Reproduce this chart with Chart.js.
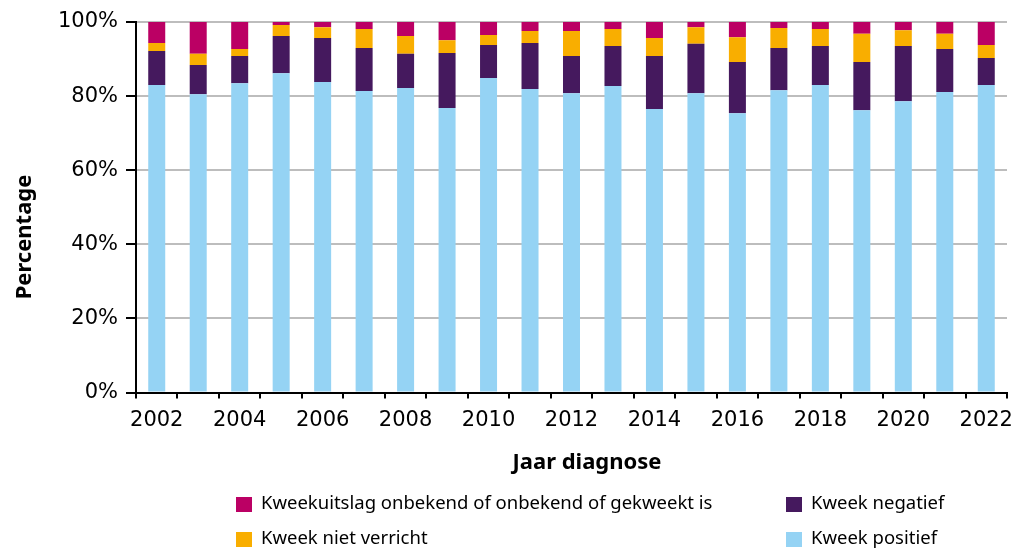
<!DOCTYPE html>
<html lang="nl">
<head>
    <title>Kweekuitslag per jaar</title>
    <script src="https://cdn.jsdelivr.net/npm/chart.js"></script>
    <style>
        html, body { margin: 0; padding: 0; background: #fff; }
        #wrap { width: 1017px; height: 550px; position: relative; }
    </style>
</head>
<body>
<div id="wrap"><canvas id="chart" width="1017" height="550"></canvas></div>
<script>
    const years = ['2002','2003','2004','2005','2006','2007','2008','2009','2010','2011','2012',
                   '2013','2014','2015','2016','2017','2018','2019','2020','2021','2022'];
    const positief = [83.0,80.5,83.5,86.2,83.8,81.4,82.2,76.8,84.9,81.9,80.8,82.7,76.5,80.8,75.4,81.6,83.0,76.2,78.6,81.1,83.0];
    const negatief = [9.2,7.9,7.3,10.0,11.9,11.6,9.2,14.8,8.9,12.4,10.0,10.8,14.3,13.3,13.8,11.4,10.5,13.0,14.9,11.6,7.3];
    const nietVerricht = [2.1,3.0,1.9,3.0,2.9,5.1,4.8,3.5,2.7,3.3,6.8,4.6,4.9,4.5,6.7,5.4,4.6,7.6,4.3,4.1,3.5];
    const onbekend = [5.7,8.6,7.3,0.8,1.4,1.9,3.8,4.9,3.5,2.4,2.4,1.9,4.3,1.4,4.1,1.6,1.9,3.2,2.2,3.2,6.2];

    const colors = {
        onbekend: '#bb0064',
        negatief: '#45195e',
        niet: '#f9ae00',
        positief: '#95d3f4'
    };

    const legendItems = [
        { text: 'Kweekuitslag onbekend of onbekend of gekweekt is', color: colors.onbekend, x: 236, y: 497 },
        { text: 'Kweek negatief', color: colors.negatief, x: 786, y: 497 },
        { text: 'Kweek niet verricht', color: colors.niet, x: 236, y: 532 },
        { text: 'Kweek positief', color: colors.positief, x: 786, y: 532 }
    ];

    const tickFont = { family: 'DejaVu Sans', size: 21 };

    // titels en legenda zelf tekenen, zodat ze op dezelfde plek staan als het origineel
    const extras = {
        id: 'extras',
        afterDraw(chart) {
            const ctx = chart.ctx;
            ctx.save();
            ctx.fillStyle = '#000';
            ctx.font = 'bold 22px "Noto Sans"';
            ctx.textAlign = 'center';
            ctx.textBaseline = 'alphabetic';
            ctx.fillText('Jaar diagnose', 587, 469);

            ctx.translate(31, 237);
            ctx.rotate(-Math.PI / 2);
            ctx.fillText('Percentage', 0, 0);
            ctx.restore();

            ctx.save();
            ctx.font = '18.5px "Noto Sans"';
            ctx.textAlign = 'left';
            ctx.textBaseline = 'middle';
            legendItems.forEach(item => {
                ctx.fillStyle = item.color;
                ctx.fillRect(item.x, item.y, 16, 15);
                ctx.fillStyle = '#000';
                ctx.fillText(item.text, item.x + 25, item.y + 7);
            });
            ctx.restore();
        }
    };

    new Chart(document.getElementById('chart'), {
        type: 'bar',
        data: {
            labels: years,
            datasets: [
                { label: 'Kweek positief', data: positief, backgroundColor: colors.positief },
                { label: 'Kweek negatief', data: negatief, backgroundColor: colors.negatief },
                { label: 'Kweek niet verricht', data: nietVerricht, backgroundColor: colors.niet },
                { label: 'Kweekuitslag onbekend of onbekend of gekweekt is', data: onbekend, backgroundColor: colors.onbekend }
            ]
        },
        options: {
            responsive: false,
            animation: false,
            layout: { padding: { top: 22, right: 10, left: 0, bottom: 0 } },
            datasets: { bar: { barPercentage: 0.41, categoryPercentage: 1.0 } },
            plugins: {
                legend: { display: false },
                tooltip: { enabled: false }
            },
            scales: {
                x: {
                    stacked: true,
                    border: { color: '#000', width: 2 },
                    grid: { drawOnChartArea: false, color: '#000', tickLength: 6, lineWidth: 2 },
                    ticks: {
                        color: '#000',
                        font: tickFont,
                        padding: 9,
                        autoSkip: false,
                        maxRotation: 0,
                        callback: function (value, index) {
                            return index % 2 === 0 ? years[index] : '';
                        }
                    },
                    afterFit: scale => {
                        scale.height = 157.5;
                        scale.paddingLeft = 0;
                        scale.paddingRight = 0;
                    }
                },
                y: {
                    stacked: true,
                    min: 0,
                    max: 100,
                    border: { color: '#000', width: 2 },
                    grid: { color: '#bdbdbd', lineWidth: 2, tickLength: 10, tickColor: '#000' },
                    ticks: {
                        stepSize: 20,
                        color: '#000',
                        font: tickFont,
                        padding: 8,
                        callback: v => v + '%'
                    },
                    afterFit: scale => { scale.width = 136; }
                }
            }
        },
        plugins: [extras]
    });
</script>
</body>
</html>
